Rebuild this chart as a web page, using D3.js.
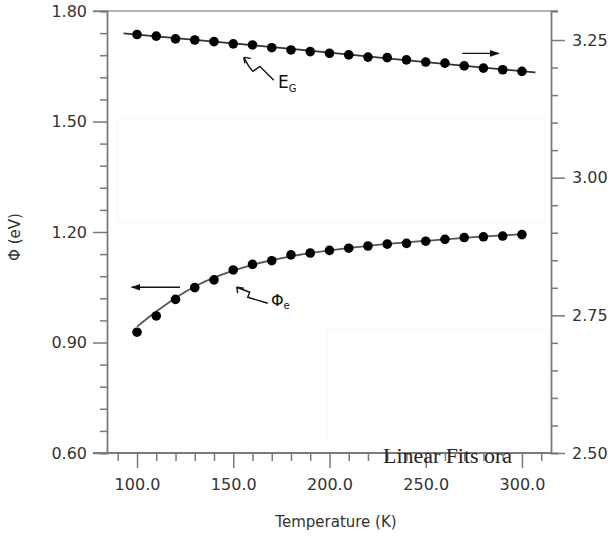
<!DOCTYPE html>
<html>
<head>
<meta charset="utf-8">
<script src="https://cdn.jsdelivr.net/npm/d3@7"></script>
<style>
  body { margin: 0; background: #fff; }
  svg { display: block; font-family: "DejaVu Sans", sans-serif; }
</style>
</head>
<body>
<svg width="611" height="536"></svg>
<script>
// temperatures (K)
const temps = [100, 110, 120, 130, 140, 150, 160, 170, 180, 190, 200,
               210, 220, 230, 240, 250, 260, 270, 280, 290, 300];
// work function, left axis (eV)
const phiVals = [0.928, 0.972, 1.017, 1.049, 1.070, 1.097, 1.112, 1.122, 1.138, 1.143, 1.150,
                 1.156, 1.162, 1.167, 1.169, 1.175, 1.180, 1.185, 1.187, 1.189, 1.193];
// band gap, right axis (eV)
const egVals = [3.260, 3.257, 3.252, 3.250, 3.247, 3.243, 3.241, 3.236, 3.232, 3.229, 3.226,
                3.223, 3.219, 3.218, 3.214, 3.210, 3.208, 3.203, 3.199, 3.196, 3.193];
// fitted curves
const phiFitT = [100, 110, 120, 130, 140, 150, 160, 180, 200, 225, 250, 275, 300];
const phiFitV = [0.943, 0.984, 1.021, 1.052, 1.076, 1.095, 1.111, 1.134, 1.150, 1.165, 1.176, 1.186, 1.194];
const egFitT = [93, 150, 200, 250, 307];
const egFitV = [3.262, 3.244, 3.227, 3.210, 3.191];

const xTicks = d3.range(90, 311, 10);
const xLabels = [100, 150, 200, 250, 300];
const yLeftTicks = d3.range(0, 21).map(i => +(0.6 + i * 0.06).toFixed(2));
const yLeftLabels = [0.6, 0.9, 1.2, 1.5, 1.8];
const yRightTicks = d3.range(0, 16).map(i => +(2.5 + i * 0.05).toFixed(2));
const yRightLabels = [2.5, 2.75, 3.0, 3.25];

const svg = d3.select("svg");
const mLeft = 107, mRight = 551, mTop = 11, mBottom = 453;

const x = d3.scaleLinear().domain([84.4, 315.1]).range([mLeft, mRight]);
const yL = d3.scaleLinear().domain([0.6, 1.8]).range([mBottom, mTop]);
const yR = d3.scaleLinear().domain([2.5, 3.3027]).range([mBottom, mTop]);

const axisColor = "#7a7a7a", textColor = "#333";
const isIn = (arr, d) => arr.some(v => Math.abs(v - d) < 1e-6);

// faint ghost boxes in the background
svg.append("rect").attr("x", 117).attr("y", 119).attr("width", 428).attr("height", 103)
  .attr("fill", "none").attr("stroke", "#f7f7f7");
svg.append("rect").attr("x", 327).attr("y", 330).attr("width", 221).attr("height", 110)
  .attr("fill", "none").attr("stroke", "#f7f7f7");

// top border
svg.append("line").attr("x1", 93).attr("x2", 558).attr("y1", mTop).attr("y2", mTop)
  .attr("stroke", "#9a9a9a").attr("stroke-width", 1.5);

function styleAxis(g) {
  g.select(".domain").attr("stroke", axisColor).attr("stroke-width", 1.8);
  g.selectAll(".tick line").attr("stroke", axisColor).attr("stroke-width", 1.5);
  g.selectAll("text").attr("fill", textColor).style("font-size", "16px")
    .style("font-family", "DejaVu Sans, sans-serif");
}

// left axis
const gL = svg.append("g").attr("transform", `translate(${mLeft},0)`)
  .call(d3.axisLeft(yL).tickValues(yLeftTicks).tickSizeOuter(0)
    .tickSize(7).tickFormat(d => isIn(yLeftLabels, d) ? d3.format(".2f")(d) : ""));
gL.selectAll(".tick").filter(d => isIn(yLeftLabels, d)).select("line").attr("x2", -14);
gL.selectAll(".tick text").attr("x", -20);
styleAxis(gL);

// right axis
const gR = svg.append("g").attr("transform", `translate(${mRight},0)`)
  .call(d3.axisRight(yR).tickValues(yRightTicks).tickSizeOuter(0)
    .tickSize(7).tickFormat(d => isIn(yRightLabels, d) ? d3.format(".2f")(d) : ""));
gR.selectAll(".tick").filter(d => isIn(yRightLabels, d)).select("line").attr("x2", 14);
gR.selectAll(".tick text").attr("x", 21);
styleAxis(gR);

// bottom axis
const gB = svg.append("g").attr("transform", `translate(0,${mBottom})`)
  .call(d3.axisBottom(x).tickValues(xTicks).tickSizeOuter(0)
    .tickSize(8).tickFormat(d => xLabels.includes(d) ? d3.format(".1f")(d) : ""));
gB.select(".domain").attr("d", `M93,0H${mRight}`);
gB.selectAll(".tick").filter(d => xLabels.includes(d)).select("line").attr("y2", 15);
gB.selectAll(".tick text").attr("y", 26);
styleAxis(gB);

// axis titles
svg.append("text").attr("x", 336).attr("y", 527).attr("text-anchor", "middle")
  .attr("fill", textColor).style("font-size", "15px").text("Temperature (K)");
svg.append("text").attr("transform", "translate(20,237) rotate(-90)").attr("text-anchor", "middle")
  .attr("fill", textColor).style("font-size", "15px").text("Φ (eV)");

// fit lines
const lineL = d3.line().x(d => x(d[0])).y(d => yL(d[1])).curve(d3.curveMonotoneX);
const lineR = d3.line().x(d => x(d[0])).y(d => yR(d[1])).curve(d3.curveMonotoneX);
svg.append("path").datum(d3.zip(phiFitT, phiFitV)).attr("d", lineL)
  .attr("fill", "none").attr("stroke", "#555").attr("stroke-width", 1.8);
svg.append("path").datum(d3.zip(egFitT, egFitV)).attr("d", lineR)
  .attr("fill", "none").attr("stroke", "#333").attr("stroke-width", 1.8);

// data points
svg.append("g").selectAll("circle").data(d3.zip(temps, phiVals)).join("circle")
  .attr("cx", d => x(d[0])).attr("cy", d => yL(d[1])).attr("r", 4.8).attr("fill", "#000");
svg.append("g").selectAll("circle").data(d3.zip(temps, egVals)).join("circle")
  .attr("cx", d => x(d[0])).attr("cy", d => yR(d[1])).attr("r", 4.8).attr("fill", "#000");

// axis-direction arrows
svg.append("defs").append("marker").attr("id", "ah").attr("viewBox", "0 0 10 10")
  .attr("refX", 9).attr("refY", 5).attr("markerWidth", 7).attr("markerHeight", 7)
  .attr("orient", "auto-start-reverse")
  .append("path").attr("d", "M0,1.5L10,5L0,8.5Z").attr("fill", "#111");
svg.append("line").attr("x1", x(122.3)).attr("x2", x(97.2)).attr("y1", yL(1.05)).attr("y2", yL(1.05))
  .attr("stroke", "#111").attr("stroke-width", 1.4).attr("marker-end", "url(#ah)");
svg.append("line").attr("x1", x(269)).attr("x2", x(288)).attr("y1", yR(3.2257)).attr("y2", yR(3.2257))
  .attr("stroke", "#111").attr("stroke-width", 1.4).attr("marker-end", "url(#ah)");

// squiggle labels
function squiggle(px, py, pts) {
  const g = svg.append("g").attr("transform", `translate(${px},${py})`);
  g.append("path").attr("d", "M0,0" + pts.map(p => "L" + p[0] + "," + p[1]).join(""))
    .attr("fill", "none").attr("stroke", "#111").attr("stroke-width", 1.4);
  g.append("path").attr("d", "M0,0L7,1M0,0L1,6").attr("stroke", "#111").attr("stroke-width", 1.4);
  return g;
}
squiggle(x(155.5), yR(3.2185), [[5, 9], [9, 14], [16, 9], [30, 23]]);
const eg = svg.append("text").attr("x", 278).attr("y", 88).attr("fill", "#111").style("font-size", "17px");
eg.append("tspan").text("E");
eg.append("tspan").attr("dy", 4).style("font-size", "10px").text("G");

squiggle(x(151.8), yL(1.05), [[13, 5], [11, 10], [31, 16]]);
const pe = svg.append("text").attr("x", 271).attr("y", 306).attr("fill", "#111").style("font-size", "16px");
pe.append("tspan").text("Φ");
pe.append("tspan").attr("dy", 3).style("font-size", "10px").text("e");

// stray label
svg.append("text").attr("x", 383).attr("y", 463).attr("fill", "#222")
  .attr("textLength", 129).attr("lengthAdjust", "spacingAndGlyphs")
  .style("font-family", "Liberation Serif, serif").style("font-size", "20px").text("Linear Fits ora");
</script>
</body>
</html>
